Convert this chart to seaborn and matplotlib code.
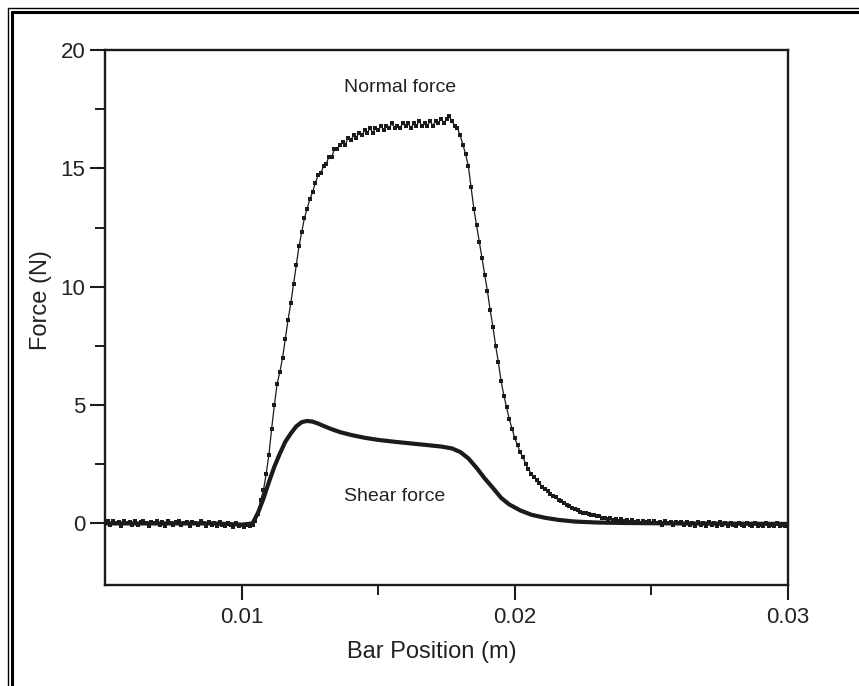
import numpy as np
import matplotlib
matplotlib.use("Agg")
import matplotlib.pyplot as plt
from matplotlib.lines import Line2D
import seaborn as sns

# ---------------- data ----------------
x_start = 0.0050      # first sample of the normal-force trace (m)
x_step = 0.0001       # sample spacing (m)

normal_force = [
    0.05, 0.10, -0.05, 0.10, 0.00, 0.05, -0.10, 0.10, 0.00, 0.05,
    -0.05, 0.10, -0.05, 0.05, 0.10, 0.00, -0.10, 0.05, 0.00, 0.10,
    -0.05, 0.05, -0.10, 0.10, 0.00, -0.05, 0.05, 0.10, -0.05, 0.00,
    0.05, -0.10, 0.05, 0.00, -0.05, 0.10, 0.00, -0.10, 0.05, -0.05,
    0.00, -0.10, 0.05, -0.05, -0.10, 0.00, -0.05, -0.15, 0.00, -0.10,
    -0.05, -0.15, -0.05, -0.10, -0.05, 0.10, 0.40, 1.00, 1.40, 2.10,
    2.9, 4.0, 5.0, 5.9, 6.4, 7.0, 7.8, 8.6, 9.3, 10.1,
    10.9, 11.7, 12.3, 12.9, 13.3, 13.7, 14.0, 14.4, 14.7, 14.8,
    15.1, 15.2, 15.5, 15.5, 15.8, 15.8, 16.0, 16.1, 16.0, 16.3,
    16.2, 16.4, 16.3, 16.5, 16.4, 16.6, 16.5, 16.7, 16.5, 16.7,
    16.6, 16.8, 16.6, 16.8, 16.7, 16.9, 16.7, 16.8, 16.7, 16.9,
    16.8, 16.9, 16.7, 16.9, 16.8, 17.0, 16.8, 16.9, 16.8, 17.0,
    16.8, 17.0, 16.9, 17.1, 16.9, 17.1, 17.2, 17.0, 16.8, 16.7,
    16.4, 16.0, 15.6, 15.1, 14.2, 13.3, 12.6, 11.9, 11.2, 10.5,
    9.8, 9.0, 8.3, 7.5, 6.8, 6.0, 5.4, 4.9, 4.4, 4.0,
    3.6, 3.3, 3.0, 2.8, 2.5, 2.3, 2.1, 1.95, 1.85, 1.7,
    1.55, 1.45, 1.35, 1.25, 1.15, 1.1, 1.0, 0.95, 0.85, 0.8,
    0.75, 0.65, 0.6, 0.55, 0.5, 0.45, 0.45, 0.4, 0.35, 0.35,
    0.3, 0.3, 0.25, 0.25, 0.2, 0.25, 0.15, 0.2, 0.1, 0.2,
    0.1, 0.15, 0.05, 0.15, 0.05, 0.1, 0.0, 0.1, 0.05, 0.1,
    0.0, 0.1, 0.0, 0.05, -0.05, 0.1, 0.0, 0.05, -0.05, 0.05,
    0.0, 0.05, -0.05, 0.05, -0.05, 0.0, -0.1, 0.05, -0.05, 0.0,
    -0.1, 0.05, -0.05, 0.0, -0.1, 0.05, -0.05, 0.0, -0.1, 0.0,
    -0.05, -0.1, 0.0, -0.05, -0.1, 0.0, -0.05, -0.1, 0.0, -0.1,
    -0.05, -0.1, 0.0, -0.1, -0.05, -0.1, 0.0, -0.1, -0.05, -0.1,
    -0.05,
]

shear_x = [0.0050, 0.0060, 0.0070, 0.0080, 0.0090, 0.0100, 0.0104, 0.0106,
           0.0108, 0.0110, 0.0112, 0.0114, 0.0116, 0.0118, 0.0120, 0.0122,
           0.0124, 0.0126, 0.0128, 0.0130, 0.0133, 0.0136, 0.0140, 0.0145,
           0.0150, 0.0156, 0.0162, 0.0168, 0.0173, 0.0177, 0.0180, 0.0183,
           0.0186, 0.0189, 0.0192, 0.0195, 0.0198, 0.0202, 0.0206, 0.0211,
           0.0216, 0.0222, 0.0230, 0.0240, 0.0260, 0.0300]
shear_force = [0.0, 0.0, 0.0, 0.0, 0.0, -0.05, 0.0, 0.45,
               1.05, 1.75, 2.4, 2.95, 3.45, 3.8, 4.1, 4.28,
               4.33, 4.3, 4.22, 4.12, 3.98, 3.86, 3.74, 3.62,
               3.53, 3.45, 3.38, 3.31, 3.25, 3.17, 3.02, 2.75,
               2.35, 1.9, 1.5, 1.08, 0.8, 0.55, 0.37, 0.24,
               0.15, 0.08, 0.04, 0.02, 0.0, -0.02]

x_ticks = [0.01, 0.02, 0.03]
x_tick_labels = ["0.01", "0.02", "0.03"]
x_minor_ticks = [0.015, 0.025]
y_ticks = [0, 5, 10, 15, 20]
y_tick_labels = ["0", "5", "10", "15", "20"]
y_minor_ticks = [2.5, 7.5, 12.5, 17.5]

normal_x = np.round(x_start + x_step * np.arange(len(normal_force)), 5)

# ---------------- style ----------------
sns.set_style("ticks")
plt.rcParams["font.family"] = ["Liberation Sans", "DejaVu Sans"]
INK = "#1b1b1b"
TXT = "#222222"

W, H = 859, 686
fig = plt.figure(figsize=(W / 100, H / 100), dpi=100)
fig.patch.set_facecolor("white")
ax = fig.add_axes([105 / W, 1 - 585 / H, 683 / W, 535 / H])
ax.set_facecolor("white")

sns.lineplot(x=normal_x, y=normal_force, ax=ax, color=INK, linewidth=0.9,
             marker="s", markersize=3.2, markeredgewidth=0, sort=False,
             estimator=None)
sns.lineplot(x=shear_x, y=shear_force, ax=ax, color=INK, linewidth=3.0,
             sort=False, estimator=None)

ax.set_xlim(0.005, 0.030)
ax.set_ylim(-2.6, 20)

ax.set_xticks(x_ticks)
ax.set_xticklabels(x_tick_labels)
ax.set_xticks(x_minor_ticks, minor=True)
ax.set_yticks(y_ticks)
ax.set_yticklabels(y_tick_labels)
ax.set_yticks(y_minor_ticks, minor=True)

ax.tick_params(which="major", direction="out", length=11, width=1.5,
               color=INK, labelsize=16, labelcolor=TXT, pad=3)
ax.tick_params(which="minor", direction="out", length=7, width=1.4,
               color=INK)
ax.tick_params(axis="x", which="major", pad=5)

for s in ax.spines.values():
    s.set_visible(True)
    s.set_linewidth(1.7)
    s.set_color(INK)

ax.set_xlabel("Bar Position (m)", fontsize=17, color=TXT, va="top")
ax.xaxis.set_label_coords(0.479, -0.105)
ax.set_ylabel("Force (N)", fontsize=17, color=TXT)
ax.yaxis.set_label_coords(-0.078, 0.533)

ax.text(0.01579, 18.43, "Normal force", fontsize=14, color=TXT,
        ha="center", va="center")
ax.text(0.01560, 1.14, "Shear force", fontsize=14, color=TXT,
        ha="center", va="center")

# scanned-page frame (double line along top and left edges)
fig.add_artist(Line2D([7.5 / W, 1.0], [1 - 7.5 / H, 1 - 7.5 / H],
                      transform=fig.transFigure, color="black", lw=1.0))
fig.add_artist(Line2D([7.5 / W, 7.5 / W], [0.0, 1 - 7.5 / H],
                      transform=fig.transFigure, color="black", lw=1.0))
fig.add_artist(Line2D([11.5 / W, 1.0], [1 - 11.5 / H, 1 - 11.5 / H],
                      transform=fig.transFigure, color="black", lw=2.2))
fig.add_artist(Line2D([11.5 / W, 11.5 / W], [0.0, 1 - 11.5 / H],
                      transform=fig.transFigure, color="black", lw=2.2))

fig.savefig("out.png", dpi=100, facecolor="white")
